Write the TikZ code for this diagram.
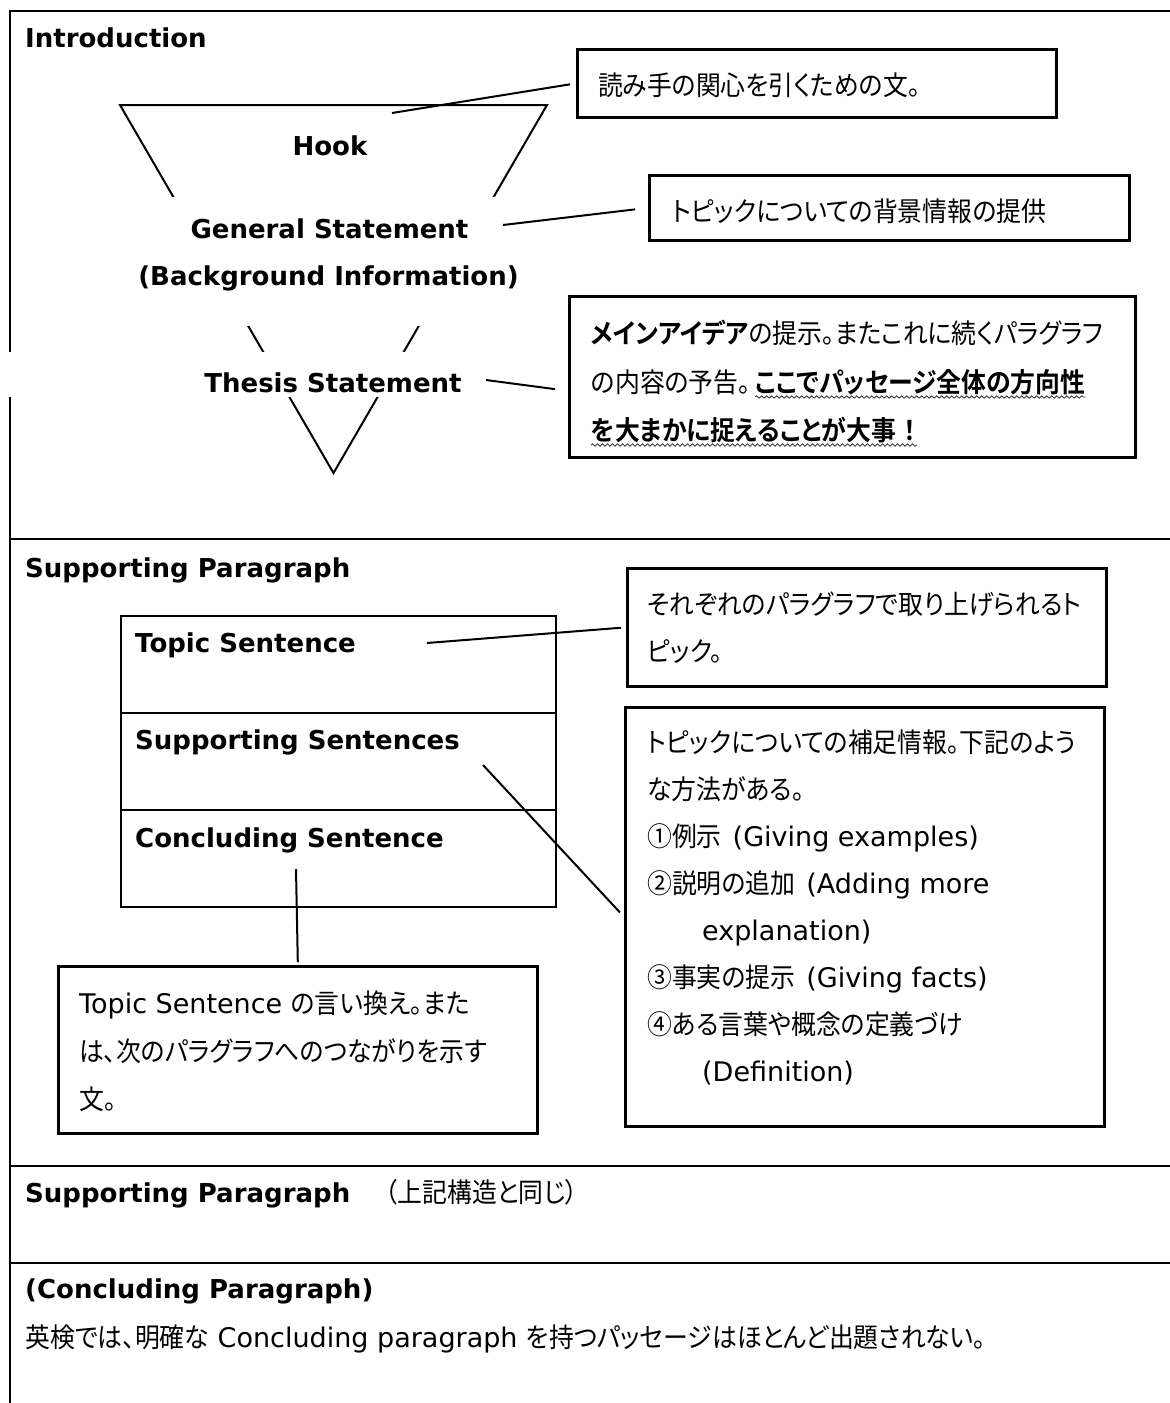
\documentclass[tikz,border=0pt]{standalone}
\usepackage{fontspec}
\setmainfont{DejaVu Sans}
\newfontfamily\jp[RawFeature=+palt, FakeStretch=0.92, BoldFont={Noto Sans CJK JP Bold}]{Noto Sans CJK JP}
\usetikzlibrary{calc,decorations.pathmorphing}

\begin{document}
\begin{tikzpicture}[x=1pt,y=-1pt,
  frame/.style={line width=2pt},
  tri/.style={line width=2pt, line join=miter},
  conn/.style={line width=2pt},
  cbox/.style={draw, line width=2.7pt, inner sep=0pt, anchor=north west},
  rowbox/.style={draw, line width=2pt, inner sep=0pt, anchor=north west, minimum width=435pt, minimum height=97pt},
  cover/.style={fill=white, inner sep=0pt, anchor=north west},
  hd/.style={inner sep=0pt, font=\bfseries\fontsize{26pt}{30pt}\selectfont},
  jt/.style={inner sep=0pt, anchor=north west, align=left, font=\fontsize{27pt}{47pt}\selectfont},
  jl/.style={inner sep=0pt, anchor=base west, font=\fontsize{27pt}{47pt}\selectfont},
  wavy/.style={line width=0.9pt, black!75, decorate, decoration={snake, amplitude=1.2pt, segment length=5pt}},
]
\useasboundingbox (0,0) rectangle (1170,1403);

% ---- frame ----
\draw[frame] (1170,11) -- (10,11) -- (10,1403);
\draw[frame] (10,539) -- (1170,539);
\draw[frame] (10,1166) -- (1170,1166);
\draw[frame] (10,1263) -- (1170,1263);

% ---- funnel ----
\draw[tri] (120,105) -- (547,105) -- (333.5,473) -- cycle;
\node[cover, minimum width=365pt, minimum height=129pt] (gscover) at (150,197) {};
\node[cover, minimum width=476pt, minimum height=45pt] (thcover) at (0,352) {};

\node[hd, anchor=base west] (intro) at (25,47) {Introduction};
\node[hd, anchor=base] (hook) at (330,155) {Hook};
\node[hd, anchor=base] (gs) at (329.5,238) {General Statement};
\node[hd, anchor=base] (bi) at (328.5,285) {(Background Information)};
\node[hd, anchor=base] (ts) at (333,392) {Thesis Statement};

% ---- intro callouts ----
\node[cbox, minimum width=479pt, minimum height=68pt] (hookbox) at (576,48) {};
\node[jl] (hooktxt) at (598,95) {\jp 読み手の関心を引くための文。};

\node[cbox, minimum width=480pt, minimum height=65pt] (bgbox) at (648,174) {};
\node[jl] (bgtxt) at (672,221) {\jp トピックについての背景情報の提供};

\node[cbox, minimum width=566pt, minimum height=161pt] (thbox) at (568,295) {};
\node[jl] (th1) at (591,343) {\jp {\bfseries メインアイデア}の提示。またこれに続くパラグラフ};
\node[jl] (th2a) at (591,392) {\jp の内容の予告。};
\node[jl, anchor=base west] (th2b) at ([xshift=4pt]th2a.base east) {\jp\bfseries ここでパッセージ全体の方向性};
\node[jl] (th3) at (591,440) {\jp\bfseries を大まかに捉えることが大事\hspace{0.3em}！\hspace{0.25em}};
\draw[wavy] ($(th2b.base west)+(0,5)$) -- ($(th2b.base east)+(0,5)$);
\draw[wavy] ($(th3.base west)+(0,5)$) -- ($(th3.base east)+(0,5)$);

\coordinate (hookS) at (392,113);
\coordinate (gsS) at (503,225);
\coordinate (tsS) at (486,380);
\draw[conn, shorten >=6pt] (hookS) -- (hookbox.west);
\draw[conn, shorten >=13pt] (gsS) -- (bgbox.west);
\draw[conn, shorten >=13pt] (tsS) -- ([yshift=-14pt]thbox.west);

% ---- supporting paragraph ----
\node[hd, anchor=base west] (sp) at (25,577) {Supporting Paragraph};

\node[rowbox] (row1) at (120,615) {};
\node[rowbox] (row2) at (120,712) {};
\node[rowbox] (row3) at (120,809) {};
\node[hd, anchor=base west] (tsent) at (135,652) {Topic Sentence};
\node[hd, anchor=base west] (ssent) at (135,749) {Supporting Sentences};
\node[hd, anchor=base west] (csent) at (135,847) {Concluding Sentence};

\node[cbox, minimum width=479pt, minimum height=118pt] (topbox) at (626,567) {};
\node[jt] (toptxt) at (647,584) {\rule{0pt}{30pt}{\jp それぞれのパラグラフで取り上げられるト}\\{\jp ピック。}};

\node[cbox, minimum width=479pt, minimum height=419pt] (supbox) at (624,706) {};
\node[jt] (suptxt) at (647,722) {\rule{0pt}{30pt}{\jp トピックについての補足情報。下記のよう}\\{\jp な方法がある。}\\{\jp ①例示}\hspace{11pt}(Giving examples)\\{\jp ②説明の追加}\hspace{11pt}(Adding more\\\hspace*{55pt}explanation)\\{\jp ③事実の提示}\hspace{11pt}(Giving facts)\\{\jp ④ある言葉や概念の定義づけ}\\\hspace*{55pt}(Definition)};

\node[cbox, minimum width=479pt, minimum height=167pt] (conbox) at (57,965) {};
\node[jt, font=\fontsize{27pt}{48pt}\selectfont] (contxt) at (79,983) {\rule{0pt}{30pt}Topic Sentence {\jp の言い換え。また}\\{\jp は、次のパラグラフへのつながりを示す}\\{\jp 文。}};

\coordinate (tsentS) at (427,643);
\coordinate (ssentS) at (483,765);
\coordinate (csentS) at (296,869);
\draw[conn, shorten >=5pt] (tsentS) -- (topbox.west);
\draw[conn, shorten >=6pt] (ssentS) -- (supbox.west);
\draw[conn, shorten >=3pt] (csentS) -- (conbox.north);

% ---- lower sections ----
\node[hd, anchor=base west] (sp2) at (25,1202) {Supporting Paragraph};
\node[jl] (sp2note) at (385,1202) {\jp （上記構造と同じ）};
\node[hd, anchor=base west] (cp) at (25,1298) {(Concluding Paragraph)};
\node[jl] (cpnote) at (25,1347) {{\jp 英検では、明確な} Concluding paragraph {\jp を持つパッセージはほとんど出題されない。}};

\end{tikzpicture}
\end{document}
